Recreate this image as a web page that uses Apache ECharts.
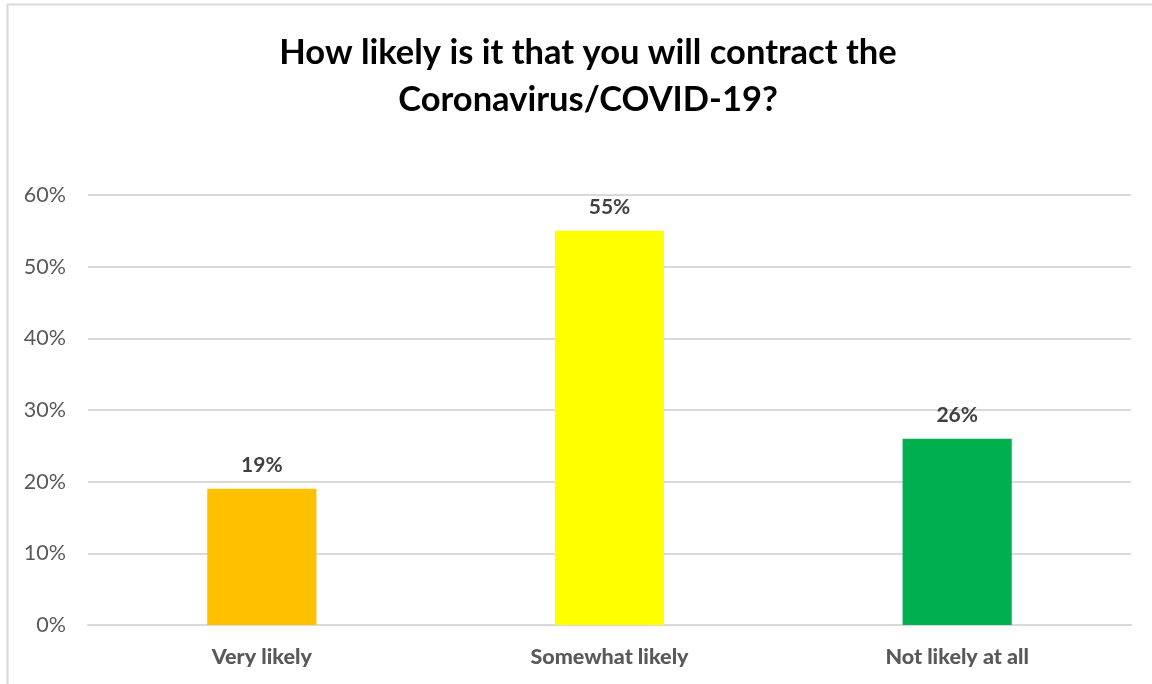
<!DOCTYPE html>
<html>
<head>
<meta charset="utf-8">
<script src="https://cdn.jsdelivr.net/npm/echarts@6/dist/echarts.min.js"></script>
<style>
  html, body { margin: 0; padding: 0; background: #fff; }
  #chart { width: 1152px; height: 684px; }
</style>
</head>
<body>
<div id="chart"></div>
<script>
const categories = ['Very likely', 'Somewhat likely', 'Not likely at all'];
const shares = [19, 55, 26];
const barColors = ['#FFC000', '#FFFF00', '#00B050'];
const yTicks = [0, 10, 20, 30, 40, 50, 60];

const chart = echarts.init(document.getElementById('chart'));
const fontFamily = 'Lato, "Open Sans", "DejaVu Sans", sans-serif';

chart.setOption({
  animation: false,
  textStyle: { fontFamily },
  graphic: [{
    type: 'rect',
    shape: { x: 7.5, y: 4.5, width: 1300, height: 800 },
    style: { fill: 'none', stroke: '#d9d9d9', lineWidth: 2 },
    silent: true,
    z: -10
  }],
  title: {
    text: 'How likely is it that you will contract the\nCoronavirus/COVID-19?',
    left: 583,
    textAlign: 'center',
    top: 24,
    textStyle: {
      fontFamily,
      fontSize: 34.5,
      fontWeight: 'bold',
      color: '#000',
      lineHeight: 47
    }
  },
  grid: { left: 88, right: 21, top: 195, bottom: 59 },
  xAxis: {
    type: 'category',
    data: categories,
    axisLine: { lineStyle: { color: '#d9d9d9', width: 2 } },
    axisTick: { show: false },
    axisLabel: {
      margin: 21,
      fontSize: 21.5,
      fontWeight: 900,
      fontStyle: 'normal',
      color: '#595959',
      fontFamily: 'Lato'
    }
  },
  yAxis: {
    type: 'value',
    min: yTicks[0],
    max: yTicks[yTicks.length - 1],
    interval: 10,
    axisLine: { show: false },
    axisTick: { show: false },
    splitLine: { lineStyle: { color: '#d9d9d9', width: 2 } },
    axisLabel: {
      formatter: v => v + '%',
      margin: 22,
      fontSize: 21.5,
      color: '#595959',
      fontFamily
    }
  },
  series: [{
    type: 'bar',
    data: shares.map((v, i) => ({ value: v, itemStyle: { color: barColors[i] } })),
    barWidth: '31.4%',
    label: {
      show: true,
      position: 'top',
      distance: 13,
      formatter: p => p.value + '%',
      fontSize: 21,
      fontWeight: 700,
      color: '#404040',
      fontFamily
    }
  }]
});
</script>
</body>
</html>
